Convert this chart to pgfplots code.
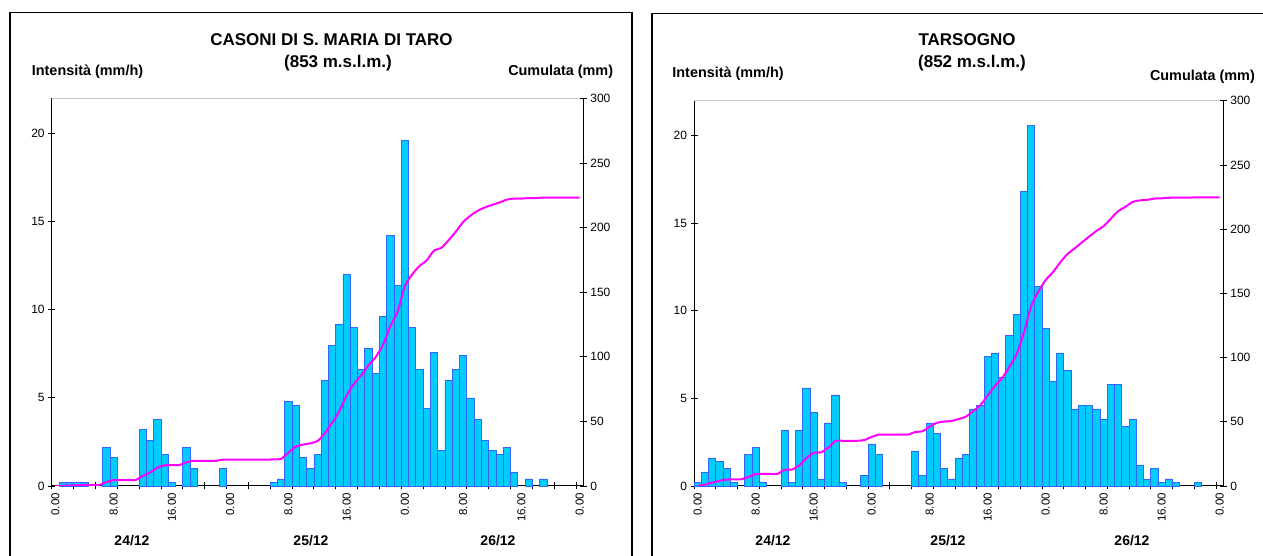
\documentclass[border=0pt]{standalone}
\usepackage{pgfplots}
\pgfplotsset{compat=1.18}
\usepackage{pgfplotstable}
\usepackage{fontspec}
\setmainfont{Liberation Sans}

\definecolor{barfill}{RGB}{0,204,255}
\definecolor{baredge}{RGB}{51,102,255}
\definecolor{cumline}{RGB}{255,0,255}
\definecolor{topline}{RGB}{200,200,200}

% Hourly rainfall intensity (mm/h); h = hours from 24/12 00:00 (only non-zero hours)
\pgfplotstableread{
h v
1 0.2
2 0.2
3 0.2
4 0.2
7 2.2
8 1.6
12 3.2
13 2.6
14 3.8
15 1.8
16 0.2
18 2.2
19 1.0
23 1.0
30 0.2
31 0.4
32 4.8
33 4.6
34 1.6
35 1.0
36 1.8
37 6.0
38 8.0
39 9.2
40 12.0
41 9.0
42 6.6
43 7.8
44 6.4
45 9.6
46 14.2
47 11.4
48 19.6
49 9.0
50 6.6
51 4.4
52 7.6
53 2.0
54 6.0
55 6.6
56 7.4
57 5.0
58 3.8
59 2.6
60 2.0
61 1.8
62 2.2
63 0.8
65 0.4
67 0.4
}\casoniH

% Cumulated rainfall (mm) at the end of each hour
\pgfplotstableread{
h c
0 0
1 0.2
2 0.4
3 0.6
4 0.8
5 0.8
6 0.8
7 3.0
8 4.6
9 4.6
10 4.6
11 4.6
12 7.8
13 10.4
14 14.2
15 16.0
16 16.2
17 16.2
18 18.4
19 19.4
20 19.4
21 19.4
22 19.4
23 20.4
24 20.4
25 20.4
26 20.4
27 20.4
28 20.4
29 20.4
30 20.6
31 21.0
32 25.8
33 30.4
34 32.0
35 33.0
36 34.8
37 40.8
38 48.8
39 58.0
40 70.0
41 79.0
42 85.6
43 93.4
44 99.8
45 109.4
46 123.6
47 135.0
48 154.6
49 163.6
50 170.2
51 174.6
52 182.2
53 184.2
54 190.2
55 196.8
56 204.2
57 209.2
58 213.0
59 215.6
60 217.6
61 219.4
62 221.6
63 222.4
64 222.4
65 222.8
66 222.8
67 223.2
68 223.2
69 223.2
70 223.2
71 223.2
72 223.2
}\casoniC

\pgfplotstableread{
h v
0 0.2
1 0.8
2 1.6
3 1.4
4 1.0
5 0.2
7 1.8
8 2.2
9 0.2
12 3.2
13 0.2
14 3.2
15 5.6
16 4.2
17 0.4
18 3.6
19 5.2
20 0.2
23 0.6
24 2.4
25 1.8
30 2.0
31 0.6
32 3.6
33 3.0
34 1.0
35 0.4
36 1.6
37 1.8
38 4.4
39 4.6
40 7.4
41 7.6
42 6.2
43 8.6
44 9.8
45 16.8
46 20.6
47 11.4
48 9.0
49 6.0
50 7.6
51 6.6
52 4.4
53 4.6
54 4.6
55 4.4
56 3.8
57 5.8
58 5.8
59 3.4
60 3.8
61 1.2
62 0.4
63 1.0
64 0.2
65 0.4
66 0.2
69 0.2
}\tarsognoH

\pgfplotstableread{
h c
0 0.2
1 1.0
2 2.6
3 4.0
4 5.0
5 5.2
6 5.2
7 7.0
8 9.2
9 9.4
10 9.4
11 9.4
12 12.6
13 12.8
14 16.0
15 21.6
16 25.8
17 26.2
18 29.8
19 35.0
20 35.2
21 35.2
22 35.2
23 35.8
24 38.2
25 40.0
26 40.0
27 40.0
28 40.0
29 40.0
30 42.0
31 42.6
32 46.2
33 49.2
34 50.2
35 50.6
36 52.2
37 54.0
38 58.4
39 63.0
40 70.4
41 78.0
42 84.2
43 92.8
44 102.6
45 119.4
46 140.0
47 151.4
48 160.4
49 166.4
50 174.0
51 180.6
52 185.0
53 189.6
54 194.2
55 198.6
56 202.4
57 208.2
58 214.0
59 217.4
60 221.2
61 222.4
62 222.8
63 223.8
64 224.0
65 224.4
66 224.6
67 224.6
68 224.6
69 224.8
70 224.8
71 224.8
72 224.8
}\tarsognoC

\pgfplotsset{
  /pgf/number format/assume math mode=true,
  common/.style={
    scale only axis,
    xmin=0, xmax=73,
    tick align=center,
    major tick length=7pt,
    minor tick length=7pt,
    tick style={black, line width=0.8pt},
    axis line style={-, black, line width=1pt},
    ticklabel style={font=\fontsize{12}{14}\selectfont},
  },
  barsaxis/.style={
    common, clip=false,
    ymin=0, ymax=22,
    axis x line*=bottom, axis y line*=left,
    ytick={0,5,10,15,20},
    xtick={0.5,8.5,16.5,24.5,32.5,40.5,48.5,56.5,64.5,72.5},
    xticklabels={0.00,8.00,16.00,0.00,8.00,16.00,0.00,8.00,16.00,0.00},
    major x tick style={draw=none},
    minor xtick={0,3,...,72},
    xticklabel style={rotate=90, anchor=east, font=\fontsize{11.5}{13}\selectfont},
  },
  cumaxis/.style={
    common,
    ymin=0, ymax=300,
    axis x line=none, axis y line*=right,
    ytick={0,50,...,300},
  },
  hourbars/.style={ybar, bar width=1, bar shift=0pt, fill=barfill, draw=baredge, line width=0.7pt},
  cumstyle/.style={cumline, line width=2pt, smooth, tension=0.45, no markers},
}

\begin{document}
\begin{tikzpicture}[x=1pt, y=1pt]
\useasboundingbox (0,0) rectangle (1263,556);

% chart frames
\draw[line width=1.3pt] (10,-5) -- (10,543.7) -- (632,543.7) -- (632,-5);
\draw[line width=1.3pt] (652,-5) -- (652,542.7) -- (1270,542.7);

% ---- CASONI DI S. MARIA DI TARO ----
\begin{axis}[barsaxis, at={(51.7pt,70pt)}, anchor=south west, width=531.6pt, height=387.7pt]
  \addplot[hourbars] table[x expr=\thisrow{h}+0.5, y=v] {\casoniH};
  \draw[topline, line width=1pt] (rel axis cs:0,1) -- (rel axis cs:1,1);
\end{axis}
\begin{axis}[cumaxis, at={(51.7pt,70pt)}, anchor=south west, width=531.6pt, height=387.7pt]
  \addplot[cumstyle] table[x expr=\thisrow{h}+0.5, y=c] {\casoniC};
\end{axis}

\node[font=\fontsize{17}{20}\selectfont\bfseries] at (331.5,516) {CASONI DI S. MARIA DI TARO};
\node[font=\fontsize{17}{20}\selectfont\bfseries] at (338,493) {(853 m.s.l.m.)};
\node[font=\fontsize{14.4}{16}\selectfont\bfseries, anchor=west, inner sep=0pt] at (31.7,484.3) {Intensità (mm/h)};
\node[font=\fontsize{14.4}{16}\selectfont\bfseries, anchor=east, inner sep=0pt] at (613.3,484.3) {Cumulata (mm)};
\node[font=\fontsize{14}{16}\selectfont\bfseries] at (132,15) {24/12};
\node[font=\fontsize{14}{16}\selectfont\bfseries] at (311,15) {25/12};
\node[font=\fontsize{14}{16}\selectfont\bfseries] at (498,15) {26/12};

% ---- TARSOGNO ----
\begin{axis}[barsaxis, at={(694pt,70pt)}, anchor=south west, width=529.3pt, height=385.3pt]
  \addplot[hourbars] table[x expr=\thisrow{h}+0.5, y=v] {\tarsognoH};
  \draw[topline, line width=1pt] (rel axis cs:0,1) -- (rel axis cs:1,1);
\end{axis}
\begin{axis}[cumaxis, at={(694pt,70pt)}, anchor=south west, width=529.3pt, height=385.3pt]
  \addplot[cumstyle] table[x expr=\thisrow{h}+0.5, y=c] {\tarsognoC};
\end{axis}

\node[font=\fontsize{17}{20}\selectfont\bfseries] at (967,516) {TARSOGNO};
\node[font=\fontsize{17}{20}\selectfont\bfseries] at (972,493) {(852 m.s.l.m.)};
\node[font=\fontsize{14.4}{16}\selectfont\bfseries] at (728,482) {Intensità (mm/h)};
\node[font=\fontsize{14.4}{16}\selectfont\bfseries, anchor=east, inner sep=0pt] at (1255,479.3) {Cumulata (mm)};
\node[font=\fontsize{14}{16}\selectfont\bfseries] at (773,15) {24/12};
\node[font=\fontsize{14}{16}\selectfont\bfseries] at (948,15) {25/12};
\node[font=\fontsize{14}{16}\selectfont\bfseries] at (1132,15) {26/12};
\end{tikzpicture}
\end{document}
